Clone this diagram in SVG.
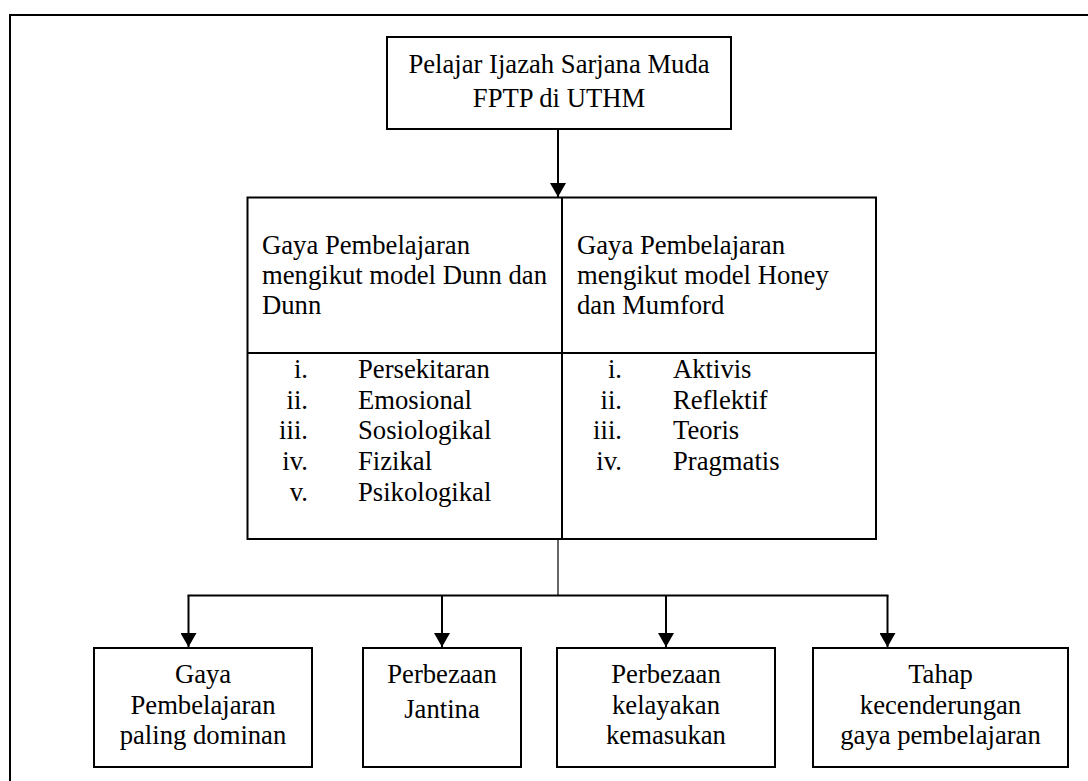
<svg xmlns="http://www.w3.org/2000/svg" width="1088" height="781" viewBox="0 0 1088 781">
<style>
  .box { fill: #fff; stroke: #000; stroke-width: 2; }
  .ln { fill: none; stroke: #000; stroke-width: 2; }
  .thin { fill: none; stroke: #000; stroke-width: 1.2; }
  text { font-family: "Liberation Serif", "Times New Roman", serif; font-size: 26.67px; fill: #000; }
  .c { text-anchor: middle; }
  .e { text-anchor: end; }
</style>
<defs>
  <marker id="arr" viewBox="0 0 14 16" refX="14" refY="8" markerWidth="14" markerHeight="16" markerUnits="userSpaceOnUse" orient="auto">
    <path d="M0,0 L14,8 L0,16 z" fill="#000"/>
  </marker>
</defs>
<rect width="1088" height="781" fill="#fff"/>
<rect id="frame" x="10" y="15" width="1100" height="800" fill="none" stroke="#000" stroke-width="2"/>

<g id="connectors">
  <line class="ln" x1="558" y1="129" x2="558" y2="197" marker-end="url(#arr)"/>
  <line class="thin" x1="558" y1="539" x2="558" y2="595.5"/>
  <line class="ln" x1="187.5" y1="595.5" x2="888.5" y2="595.5"/>
  <line class="ln" x1="188.5" y1="595.5" x2="188.5" y2="647" marker-end="url(#arr)"/>
  <line class="ln" x1="442" y1="595.5" x2="442" y2="647" marker-end="url(#arr)"/>
  <line class="ln" x1="666" y1="595.5" x2="666" y2="647" marker-end="url(#arr)"/>
  <line class="ln" x1="887.5" y1="595.5" x2="887.5" y2="647" marker-end="url(#arr)"/>
</g>

<g id="top">
  <rect class="box" x="387" y="37" width="344" height="92"/>
  <text class="c" x="559" y="73">Pelajar Ijazah Sarjana Muda</text>
  <text class="c" x="559" y="107">FPTP di UTHM</text>
</g>

<g id="models">
  <rect class="box" x="247.5" y="197.5" width="628.5" height="341.5"/>
  <line class="ln" x1="562" y1="197.5" x2="562" y2="539"/>
  <line class="ln" x1="247.5" y1="353" x2="876" y2="353"/>
  <g id="dunn">
    <text x="262" y="254">Gaya Pembelajaran</text>
    <text x="262" y="284">mengikut model Dunn dan</text>
    <text x="262" y="314">Dunn</text>
    <text class="e" x="308" y="378">i.</text><text x="358" y="378">Persekitaran</text>
    <text class="e" x="308" y="408.7">ii.</text><text x="358" y="408.7">Emosional</text>
    <text class="e" x="308" y="439.3">iii.</text><text x="358" y="439.3">Sosiologikal</text>
    <text class="e" x="308" y="470">iv.</text><text x="358" y="470">Fizikal</text>
    <text class="e" x="308" y="500.7">v.</text><text x="358" y="500.7">Psikologikal</text>
  </g>
  <g id="honey">
    <text x="577" y="254">Gaya Pembelajaran</text>
    <text x="577" y="284">mengikut model Honey</text>
    <text x="577" y="314">dan Mumford</text>
    <text class="e" x="622" y="378">i.</text><text x="673" y="378">Aktivis</text>
    <text class="e" x="622" y="408.7">ii.</text><text x="673" y="408.7">Reflektif</text>
    <text class="e" x="622" y="439.3">iii.</text><text x="673" y="439.3">Teoris</text>
    <text class="e" x="622" y="470">iv.</text><text x="673" y="470">Pragmatis</text>
  </g>
</g>

<g id="out1">
  <rect class="box" x="94" y="648" width="218" height="119"/>
  <text class="c" x="203" y="683">Gaya</text>
  <text class="c" x="203" y="714">Pembelajaran</text>
  <text class="c" x="203" y="744">paling dominan</text>
</g>
<g id="out2">
  <rect class="box" x="363" y="648" width="158" height="119"/>
  <text class="c" x="442" y="683">Perbezaan</text>
  <text class="c" x="442" y="718">Jantina</text>
</g>
<g id="out3">
  <rect class="box" x="557" y="648" width="218" height="119"/>
  <text class="c" x="666" y="683">Perbezaan</text>
  <text class="c" x="666" y="714">kelayakan</text>
  <text class="c" x="666" y="744">kemasukan</text>
</g>
<g id="out4">
  <rect class="box" x="813" y="648" width="255" height="119"/>
  <text class="c" x="940.5" y="683">Tahap</text>
  <text class="c" x="940.5" y="714">kecenderungan</text>
  <text class="c" x="940.5" y="744">gaya pembelajaran</text>
</g>
</svg>
